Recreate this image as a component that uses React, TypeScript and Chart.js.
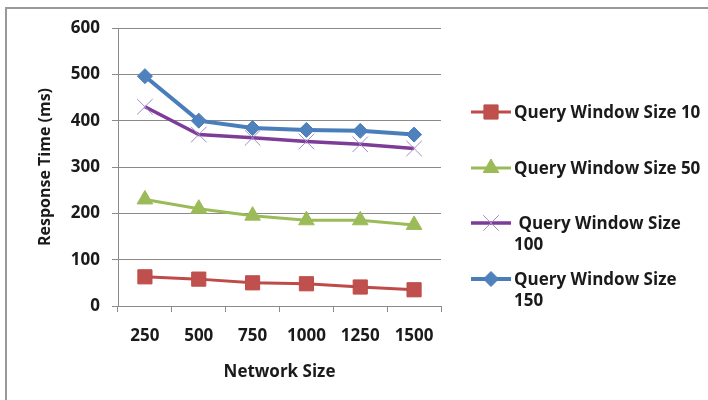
import React, { useEffect, useRef } from "react";
import { Chart, registerables } from "chart.js";

Chart.register(...registerables);

const categories = ["250", "500", "750", "1000", "1250", "1500"];
const series10 = [63, 58, 50, 48, 41, 35];
const series50 = [230, 210, 195, 185, 185, 175];
const series100 = [430, 370, 363, 355, 349, 340];
const series150 = [496, 400, 384, 380, 378, 370];
const seriesLabels = [
  "Query Window Size 10",
  "Query Window Size 50",
  "Query Window Size 100",
  "Query Window Size 150",
];
const legendLines = [
  ["Query Window Size 10"],
  ["Query Window Size 50"],
  [" Query Window Size", "100"],
  ["Query Window Size", "150"],
];
const yTitle = "Response Time (ms)";
const xTitle = "Network Size";

const FONT = "'Open Sans', sans-serif";
const TEXT = "#1a1a1a";
const AXIS = "#8a8a8a";

function drawMarker(ctx: CanvasRenderingContext2D, style: string, x: number, y: number, r: number, fill: string, stroke: string, bw: number) {
  ctx.save();
  ctx.beginPath();
  ctx.fillStyle = fill;
  ctx.strokeStyle = stroke;
  ctx.lineWidth = bw;
  if (style === "rect") {
    const s = Math.SQRT1_2 * r;
    ctx.rect(x - s, y - s, 2 * s, 2 * s);
    ctx.fill();
    ctx.stroke();
  } else if (style === "triangle") {
    ctx.moveTo(x, y - r);
    ctx.lineTo(x + Math.sin((2 * Math.PI) / 3) * r, y - Math.cos((2 * Math.PI) / 3) * r);
    ctx.lineTo(x + Math.sin((4 * Math.PI) / 3) * r, y - Math.cos((4 * Math.PI) / 3) * r);
    ctx.closePath();
    ctx.fill();
    ctx.stroke();
  } else if (style === "rectRot") {
    ctx.moveTo(x, y - r);
    ctx.lineTo(x + r, y);
    ctx.lineTo(x, y + r);
    ctx.lineTo(x - r, y);
    ctx.closePath();
    ctx.fill();
    ctx.stroke();
  } else if (style === "crossRot") {
    const d = Math.SQRT1_2 * r;
    ctx.moveTo(x - d, y - d);
    ctx.lineTo(x + d, y + d);
    ctx.moveTo(x - d, y + d);
    ctx.lineTo(x + d, y - d);
    ctx.stroke();
  }
  ctx.restore();
}

const framePlugin = {
  id: "frame",
  beforeDraw(chart: any) {
    const ctx = chart.ctx as CanvasRenderingContext2D;
    ctx.save();
    ctx.fillStyle = "#ffffff";
    ctx.fillRect(0, 0, chart.width, chart.height);
    ctx.strokeStyle = "#999999";
    ctx.lineWidth = 2;
    ctx.beginPath();
    ctx.moveTo(6, chart.height + 2);
    ctx.lineTo(6, 8);
    ctx.lineTo(chart.width + 2, 8);
    ctx.stroke();
    ctx.restore();
  },
};

const legendPlugin = {
  id: "customLegend",
  afterDraw(chart: any) {
    const ctx = chart.ctx as CanvasRenderingContext2D;
    const rows = [112, 168, 223, 279];
    const lineH = 21;
    chart.data.datasets.forEach((ds: any, i: number) => {
      const y = rows[i];
      ctx.save();
      ctx.strokeStyle = ds.borderColor;
      ctx.lineWidth = ds.borderWidth;
      ctx.beginPath();
      ctx.moveTo(471, y);
      ctx.lineTo(511, y);
      ctx.stroke();
      ctx.restore();
      drawMarker(ctx, ds.pointStyle, 491, y, ds.pointRadius, ds.pointBackgroundColor, ds.pointBorderColor, ds.pointBorderWidth);
      ctx.save();
      ctx.fillStyle = TEXT;
      ctx.font = `bold 17px ${FONT}`;
      ctx.textAlign = "left";
      ctx.textBaseline = "middle";
      legendLines[i].forEach((t, j) => {
        ctx.fillText(t, 514, y + 1 + j * lineH);
      });
      ctx.restore();
    });
  },
};

export default function App() {
  const ref = useRef<HTMLCanvasElement | null>(null);
  useEffect(() => {
    if (!ref.current) return;
    const chart = new Chart(ref.current, {
      type: "line",
      data: {
        labels: categories,
        datasets: [
          {
            label: seriesLabels[0],
            data: series10,
            borderColor: "#BE4B48",
            borderWidth: 3,
            pointStyle: "rect",
            pointRadius: 10,
            pointBackgroundColor: "#C0504D",
            pointBorderColor: "#BE4B48",
            pointBorderWidth: 1,
          },
          {
            label: seriesLabels[1],
            data: series50,
            borderColor: "#9BBB59",
            borderWidth: 3,
            pointStyle: "triangle",
            pointRadius: 9,
            pointBackgroundColor: "#9BBB59",
            pointBorderColor: "#9BBB59",
            pointBorderWidth: 1,
          },
          {
            label: seriesLabels[2],
            data: series100,
            borderColor: "#7D3C98",
            borderWidth: 3.5,
            pointStyle: "crossRot",
            pointRadius: 11,
            pointBackgroundColor: "#A58BC9",
            pointBorderColor: "#A58BC9",
            pointBorderWidth: 1,
          },
          {
            label: seriesLabels[3],
            data: series150,
            borderColor: "#4A7EBB",
            borderWidth: 4,
            pointStyle: "rectRot",
            pointRadius: 7.5,
            pointBackgroundColor: "#4F81BD",
            pointBorderColor: "#4A7EBB",
            pointBorderWidth: 1,
          },
        ] as any,
      },
      options: {
        responsive: false,
        animation: false,
        devicePixelRatio: 1,
        layout: { padding: { left: 0, top: 28, right: 267, bottom: 0 } },
        plugins: {
          legend: { display: false },
          tooltip: { enabled: false },
        },
        elements: { line: { tension: 0 } },
        scales: {
          x: {
            type: "category",
            offset: true,
            grid: {
              offset: true,
              drawOnChartArea: false,
              drawTicks: true,
              tickLength: 6,
              color: AXIS,
            },
            border: { display: true, color: AXIS, width: 1 },
            ticks: {
              color: TEXT,
              font: { family: FONT, size: 17, weight: "bold" },
              padding: 14,
              maxRotation: 0,
            },
            title: {
              display: true,
              text: xTitle,
              color: TEXT,
              font: { family: FONT, size: 17, weight: "bold" },
              padding: { top: 0, bottom: 18 },
            },
            afterFit(scale: any) {
              scale.height = 94;
            },
          },
          y: {
            min: 0,
            max: 600,
            ticks: {
              stepSize: 100,
              color: TEXT,
              font: { family: FONT, size: 17, weight: "bold" },
              padding: 12,
            },
            grid: {
              color: AXIS,
              tickLength: 6,
              drawTicks: true,
            },
            border: { display: true, color: AXIS, width: 1 },
            title: {
              display: true,
              text: yTitle,
              color: TEXT,
              font: { family: FONT, size: 16, weight: "bold" },
              padding: { top: 36, bottom: 0 },
            },
            afterFit(scale: any) {
              scale.width = 118;
            },
          },
        },
      } as any,
      plugins: [framePlugin, legendPlugin],
    });
    return () => chart.destroy();
  }, []);
  return (
    <div style={{ position: "absolute", left: 0, top: 0, width: 708, height: 400 }}>
      <canvas ref={ref} width={708} height={400} style={{ width: 708, height: 400, display: "block" }} />
    </div>
  );
}
